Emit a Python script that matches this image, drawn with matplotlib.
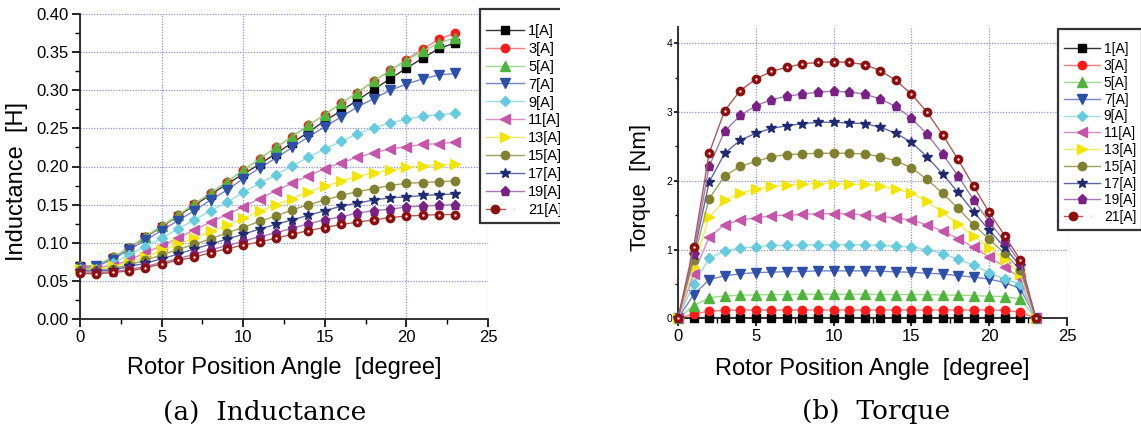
import matplotlib
matplotlib.use("Agg")
import matplotlib.pyplot as plt
from matplotlib.legend_handler import HandlerTuple
from matplotlib.ticker import MultipleLocator, FormatStrFormatter
from matplotlib.transforms import Bbox, TransformedBbox

plt.rcParams['font.family'] = ['Liberation Sans', 'DejaVu Sans']

angle = [0, 1, 2, 3, 4, 5, 6, 7, 8, 9, 10, 11, 12, 13, 14, 15, 16, 17, 18, 19, 20, 21, 22, 23]
labels = ['1[A]', '3[A]', '5[A]', '7[A]', '9[A]', '11[A]', '13[A]', '15[A]', '17[A]', '19[A]', '21[A]']

# inductance [H]
L1 = [0.069, 0.070, 0.080, 0.093, 0.107, 0.121, 0.135, 0.149, 0.163, 0.177, 0.190, 0.203,
      0.217, 0.231, 0.245, 0.260, 0.273, 0.287, 0.301, 0.315, 0.329, 0.342, 0.355, 0.362]
L3 = [0.069, 0.070, 0.081, 0.093, 0.108, 0.122, 0.136, 0.151, 0.165, 0.180, 0.195, 0.210,
      0.225, 0.239, 0.254, 0.268, 0.283, 0.297, 0.312, 0.326, 0.340, 0.354, 0.367, 0.375]
L5 = [0.069, 0.070, 0.081, 0.093, 0.108, 0.122, 0.136, 0.151, 0.165, 0.180, 0.195, 0.210,
      0.225, 0.239, 0.254, 0.268, 0.283, 0.297, 0.312, 0.326, 0.339, 0.351, 0.362, 0.369]
L7 = [0.067, 0.069, 0.078, 0.091, 0.103, 0.116, 0.129, 0.142, 0.156, 0.169, 0.184, 0.198,
      0.211, 0.225, 0.239, 0.252, 0.265, 0.278, 0.289, 0.300, 0.308, 0.315, 0.320, 0.322]
L9 = [0.066, 0.066, 0.073, 0.084, 0.095, 0.106, 0.118, 0.130, 0.142, 0.153, 0.166, 0.178,
      0.189, 0.201, 0.212, 0.223, 0.233, 0.243, 0.251, 0.257, 0.262, 0.266, 0.268, 0.270]
L11 = [0.066, 0.066, 0.070, 0.077, 0.087, 0.096, 0.106, 0.117, 0.127, 0.137, 0.147, 0.158,
       0.168, 0.178, 0.188, 0.197, 0.205, 0.212, 0.218, 0.223, 0.226, 0.229, 0.230, 0.232]
L13 = [0.065, 0.065, 0.069, 0.074, 0.081, 0.090, 0.098, 0.106, 0.115, 0.123, 0.132, 0.141,
       0.150, 0.158, 0.167, 0.174, 0.181, 0.187, 0.192, 0.195, 0.199, 0.201, 0.202, 0.203]
L15 = [0.064, 0.064, 0.066, 0.071, 0.077, 0.084, 0.091, 0.098, 0.105, 0.113, 0.120, 0.128,
       0.135, 0.143, 0.150, 0.156, 0.162, 0.167, 0.171, 0.175, 0.178, 0.179, 0.180, 0.181]
L17 = [0.063, 0.063, 0.064, 0.069, 0.073, 0.079, 0.085, 0.092, 0.098, 0.105, 0.111, 0.118,
       0.124, 0.130, 0.136, 0.142, 0.148, 0.152, 0.156, 0.159, 0.160, 0.162, 0.163, 0.164]
L19 = [0.062, 0.061, 0.062, 0.065, 0.069, 0.074, 0.079, 0.085, 0.091, 0.096, 0.102, 0.108,
       0.113, 0.119, 0.125, 0.130, 0.134, 0.139, 0.142, 0.144, 0.147, 0.148, 0.149, 0.150]
L21 = [0.060, 0.059, 0.061, 0.063, 0.067, 0.072, 0.077, 0.081, 0.087, 0.092, 0.097, 0.101,
       0.106, 0.111, 0.116, 0.120, 0.124, 0.127, 0.130, 0.133, 0.135, 0.136, 0.137, 0.137]

# torque [Nm]
T1 = [0, 0.005, 0.01, 0.01, 0.01, 0.01, 0.01, 0.01, 0.01, 0.01, 0.01, 0.01,
      0.01, 0.01, 0.01, 0.01, 0.01, 0.01, 0.01, 0.01, 0.01, 0.01, 0.01, 0]
T3 = [0, 0.06, 0.105, 0.115, 0.12, 0.12, 0.12, 0.12, 0.12, 0.12, 0.12, 0.12,
      0.12, 0.12, 0.12, 0.12, 0.12, 0.12, 0.12, 0.12, 0.12, 0.115, 0.09, 0]
T5 = [0, 0.18, 0.30, 0.325, 0.335, 0.34, 0.345, 0.345, 0.35, 0.35, 0.35, 0.35,
      0.35, 0.345, 0.345, 0.345, 0.345, 0.34, 0.335, 0.33, 0.32, 0.315, 0.28, 0]
T7 = [0, 0.34, 0.56, 0.62, 0.645, 0.665, 0.67, 0.68, 0.68, 0.69, 0.69, 0.69,
      0.69, 0.685, 0.675, 0.67, 0.655, 0.645, 0.62, 0.60, 0.57, 0.52, 0.43, 0]
T9 = [0, 0.50, 0.87, 0.98, 1.02, 1.04, 1.06, 1.06, 1.07, 1.07, 1.07, 1.07,
      1.07, 1.06, 1.05, 1.04, 1.00, 0.94, 0.86, 0.77, 0.665, 0.57, 0.50, 0]
T11 = [0, 0.64, 1.18, 1.36, 1.43, 1.46, 1.49, 1.50, 1.51, 1.52, 1.52, 1.52,
       1.50, 1.48, 1.46, 1.43, 1.36, 1.27, 1.16, 1.03, 0.89, 0.75, 0.58, 0]
T13 = [0, 0.75, 1.47, 1.72, 1.82, 1.88, 1.92, 1.94, 1.95, 1.96, 1.96, 1.95,
       1.95, 1.92, 1.88, 1.82, 1.70, 1.54, 1.37, 1.20, 1.02, 0.86, 0.645, 0]
T15 = [0, 0.85, 1.74, 2.07, 2.21, 2.28, 2.35, 2.38, 2.39, 2.40, 2.40, 2.40,
       2.39, 2.35, 2.29, 2.19, 2.02, 1.82, 1.60, 1.36, 1.15, 0.945, 0.70, 0]
T17 = [0, 0.92, 1.98, 2.40, 2.59, 2.69, 2.76, 2.80, 2.83, 2.85, 2.85, 2.84,
       2.83, 2.78, 2.69, 2.56, 2.35, 2.10, 1.83, 1.55, 1.28, 1.03, 0.76, 0]
T19 = [0, 0.95, 2.21, 2.72, 2.95, 3.09, 3.18, 3.23, 3.26, 3.29, 3.30, 3.29,
       3.26, 3.19, 3.08, 2.91, 2.68, 2.39, 2.07, 1.72, 1.40, 1.12, 0.81, 0]
T21 = [0, 1.03, 2.40, 3.02, 3.31, 3.48, 3.59, 3.65, 3.70, 3.72, 3.73, 3.72,
       3.69, 3.60, 3.46, 3.26, 3.00, 2.67, 2.31, 1.92, 1.54, 1.20, 0.85, 0]

inductance = [L1, L3, L5, L7, L9, L11, L13, L15, L17, L19, L21]
torque = [T1, T3, T5, T7, T9, T11, T13, T15, T17, T19, T21]

mk_colors = ['#000000', '#ff1a1a', '#4fb43c', '#2e4fa8', '#66cbdc', '#c455a8',
             '#f2e600', '#80802e', '#1f2a70', '#7a2185', '#8b1010']
ln_colors = ['#333333', '#ff7a7a', '#9ad98c', '#7484c8', '#9adde8', '#d88cc4',
             '#f2ea60', '#a0a05c', '#5e68a4', '#a478b4', '#b05858']
markers = ['s', 'o', '^', 'v', 'D', '<', '>', 'o', '*', 'p', 'o']
msizes = [5.5, 6, 6.5, 6.5, 5.5, 6.5, 6.5, 6, 7.5, 6.5, 6]

grid_col = '#8d8fe0'


def style_axes(ax):
    for s in ['top', 'right']:
        ax.spines[s].set_visible(False)
    for s in ['left', 'bottom']:
        ax.spines[s].set_color('#222222')
        ax.spines[s].set_linewidth(1.3)
    ax.grid(True, which='major', color=grid_col, linestyle=(0, (1, 1.2)), linewidth=0.9)
    ax.set_axisbelow(True)


def draw(ax, series):
    handles = []
    for i, ys in enumerate(series):
        h, = ax.plot(angle, ys, color=ln_colors[i], lw=1.0, marker=markers[i],
                     ms=msizes[i], mfc=mk_colors[i], mec=mk_colors[i],
                     clip_on=False, zorder=3)
        if i == len(series) - 1:
            # little highlight on the dark red balls
            h2, = ax.plot(angle, ys, ls='none', marker='o', ms=1.8,
                          mfc='#f4dada', mec='none', clip_on=False, zorder=4)
            handles.append((h, h2))
        else:
            handles.append(h)
    return handles


def make_legend(ax, handles, anchor, fs, spacing):
    # blank tiny title just pushes the rows down a bit, like the original box
    leg = ax.legend(handles, labels, loc='upper left', bbox_to_anchor=anchor,
                    bbox_transform=fig.transFigure, fontsize=fs, frameon=True, fancybox=False,
                    framealpha=1, edgecolor='#333333', handlelength=2.6, handletextpad=0.3,
                    labelspacing=spacing, borderpad=0.4, borderaxespad=0,
                    title=' ', title_fontsize=4,
                    handler_map={tuple: HandlerTuple(ndivide=None, pad=0)})
    leg.get_frame().set_linewidth(1.6)
    return leg


fig = plt.figure(figsize=(11.41, 4.34), dpi=100)

# (a) inductance
ax1 = fig.add_axes([80 / 1141, 1 - 319 / 434, 408 / 1141, 305 / 434])
style_axes(ax1)
h1 = draw(ax1, inductance)
ax1.set_xlim(0, 25)
ax1.set_ylim(0, 0.40)
ax1.xaxis.set_major_locator(MultipleLocator(5))
ax1.xaxis.set_minor_locator(MultipleLocator(2.5))
ax1.yaxis.set_major_locator(MultipleLocator(0.05))
ax1.yaxis.set_minor_locator(MultipleLocator(0.025))
ax1.yaxis.set_major_formatter(FormatStrFormatter('%.2f'))
ax1.tick_params(which='major', direction='out', length=6, width=1.2, labelsize=12, pad=2)
ax1.tick_params(which='minor', direction='out', length=3.5, width=1.0)
ax1.set_xlabel('Rotor Position Angle  [degree]', fontsize=17)
ax1.set_ylabel('Inductance  [H]', fontsize=17)
ax1.xaxis.set_label_coords(0.5, -0.125)
ax1.yaxis.set_label_coords(-0.128, 0.45)
leg1 = make_legend(ax1, h1, (480 / 1141, 1 - 9 / 434), 10.5, 0.27)
# the left panel ends at x=560 px, so the legend is cut there
clip1 = TransformedBbox(Bbox([[0, 0], [560 / 1141, 1]]), fig.transFigure)
for a in leg1.findobj():
    if a is not leg1:
        a.set_clip_box(clip1)
        a.set_clip_on(True)

# (b) torque
ax2 = fig.add_axes([678 / 1141, 1 - 318.3 / 434, 389 / 1141, 291.6 / 434])
style_axes(ax2)
h2 = draw(ax2, torque)
ax2.set_xlim(0, 25)
ax2.set_ylim(0, 4.24)
ax2.xaxis.set_major_locator(MultipleLocator(5))
ax2.xaxis.set_minor_locator(MultipleLocator(2.5))
ax2.yaxis.set_major_locator(MultipleLocator(1))
ax2.yaxis.set_minor_locator(MultipleLocator(0.5))
ax2.tick_params(axis='x', which='major', direction='out', length=6, width=1.2, labelsize=12, pad=2)
ax2.tick_params(axis='x', which='minor', direction='out', length=3.5, width=1.0)
ax2.tick_params(axis='y', which='major', direction='out', length=3, width=1.2, labelsize=7.5, pad=1)
ax2.tick_params(axis='y', which='minor', direction='out', length=2, width=1.0)
ax2.set_xlabel('Rotor Position Angle  [degree]', fontsize=17)
ax2.set_ylabel('Torque  [Nm]', fontsize=16)
ax2.xaxis.set_label_coords(0.5, -0.135)
ax2.yaxis.set_label_coords(-0.069, 0.45)
leg2 = make_legend(ax2, h2, (1058 / 1141, 1 - 29 / 434), 10, 0.2)

fig.text(265 / 1141, 1 - 412 / 434, '(a)  Inductance', ha='center', va='center',
         family='DejaVu Serif', fontsize=19)
fig.text(876 / 1141, 1 - 412 / 434, '(b)  Torque', ha='center', va='center',
         family='DejaVu Serif', fontsize=19)

fig.savefig('out.png', dpi=100)
